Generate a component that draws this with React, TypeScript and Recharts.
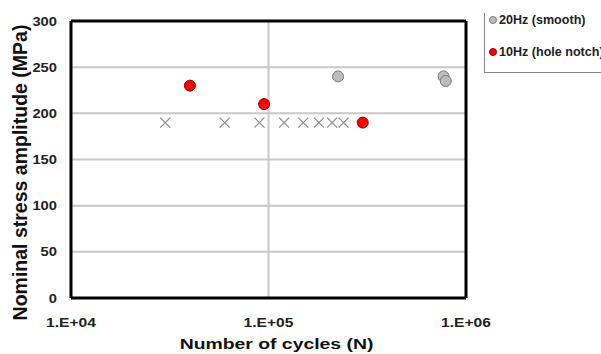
import React from 'react';
import { ScatterChart, Scatter, XAxis, YAxis, CartesianGrid, ReferenceLine, Label } from 'recharts';

const smoothCycles = [225000, 770000, 790000];
const smoothStress = [240, 240, 235];
const notchCycles = [40000, 95000, 300000];
const notchStress = [230, 210, 190];
const runoutCycles = [30000, 60000, 90000, 120000, 150000, 180000, 210000, 240000];
const runoutStress = [190, 190, 190, 190, 190, 190, 190, 190];
const xTicks = [10000, 100000, 1000000];
const yTicks = [0, 50, 100, 150, 200, 250, 300];
const legendLabels = ['20Hz (smooth)', '10Hz (hole notch)'];
const xTitle = 'Number of cycles (N)';
const yTitle = 'Nominal stress amplitude (MPa)';

const toPts = (xs: number[], ys: number[]) => xs.map((x, i) => ({ x, y: ys[i] }));
const smoothData = toPts(smoothCycles, smoothStress);
const notchData = toPts(notchCycles, notchStress);
const runoutData = toPts(runoutCycles, runoutStress);

const fmt = (v: number) => {
  const e = Math.round(Math.log10(v));
  return `1.E+${e < 10 ? '0' + e : e}`;
};

const FONT = 'Liberation Sans, Arial, sans-serif';

const GreyDot = (p: any) => <circle cx={p.cx} cy={p.cy} r={5.5} fill="#bdbdbd" stroke="#7a7a7a" strokeWidth={1} />;
const RedDot = (p: any) => <circle cx={p.cx} cy={p.cy} r={5.5} fill="#ff0000" stroke="#8a0000" strokeWidth={1} />;
const Cross = (p: any) => {
  const s = 5;
  return (
    <path
      d={`M${p.cx - s},${p.cy - s}L${p.cx + s},${p.cy + s}M${p.cx - s},${p.cy + s}L${p.cx + s},${p.cy - s}`}
      stroke="#8c8c8c"
      strokeWidth={1.2}
      fill="none"
    />
  );
};

const XTick = (p: any) => (
  <g transform={`translate(${p.x},${p.y})`}>
    <text transform="scale(1.25,1)" textAnchor="middle" dy="0.71em" fontSize={12.5} fontWeight={700} fill="#222" fontFamily={FONT}>
      {fmt(p.payload.value)}
    </text>
  </g>
);

const YTick = (p: any) => (
  <g transform={`translate(${p.x},${p.y})`}>
    <text transform="scale(1.18,1)" textAnchor="end" dy="0.36em" fontSize={12.5} fontWeight={700} fill="#222" fontFamily={FONT}>
      {p.payload.value}
    </text>
  </g>
);

const XTitle = (p: any) => {
  const vb = p.viewBox;
  const cx = vb.x + vb.width / 2 + 8;
  return (
    <g transform={`translate(${cx},349)`}>
      <text transform="scale(1.25,1)" textAnchor="middle" fontSize={15.5} fontWeight={700} fill="#111" fontFamily={FONT}>
        {xTitle}
      </text>
    </g>
  );
};

const YTitle = (p: any) => {
  const vb = p.viewBox;
  const cy = vb.y + vb.height / 2 + 13;
  return (
    <text transform={`translate(27,${cy}) rotate(-90)`} textAnchor="middle" fontSize={19.5} fontWeight={700} fill="#111" fontFamily={FONT}>
      {yTitle}
    </text>
  );
};

export default function App() {
  const legendText: React.CSSProperties = { display: 'inline-block', transform: 'scaleX(0.93)', transformOrigin: 'left center', fontSize: 13.5 };
  return (
    <div style={{ position: 'absolute', left: 0, top: 0, width: 601, height: 354, background: '#fff', overflow: 'hidden', fontFamily: FONT }}>
      <ScatterChart width={601} height={354} margin={{ top: 21, right: 135, bottom: 0, left: 0 }}>
        <CartesianGrid vertical={false} stroke="#c8c8c8" strokeWidth={2} />
        <XAxis
          dataKey="x"
          type="number"
          scale="log"
          domain={[10000, 1000000]}
          ticks={xTicks}
          tick={<XTick />}
          tickLine={false}
          tickSize={0}
          tickMargin={20}
          axisLine={{ stroke: '#000', strokeWidth: 3 }}
          height={56}
          allowDataOverflow
        >
          <Label content={<XTitle />} />
        </XAxis>
        <YAxis
          dataKey="y"
          type="number"
          domain={[0, 300]}
          ticks={yTicks}
          tick={<YTick />}
          tickLine={false}
          tickSize={0}
          tickMargin={14}
          axisLine={{ stroke: '#000', strokeWidth: 3 }}
          width={71}
        >
          <Label content={<YTitle />} />
        </YAxis>
        <ReferenceLine x={100000} stroke="#c8c8c8" strokeWidth={2} />
        <ReferenceLine y={300} stroke="#000" strokeWidth={3} />
        <ReferenceLine x={1000000} stroke="#000" strokeWidth={3} />
        <Scatter data={runoutData} shape={Cross} isAnimationActive={false} />
        <Scatter data={smoothData} shape={GreyDot} isAnimationActive={false} />
        <Scatter data={notchData} shape={RedDot} isAnimationActive={false} />
      </ScatterChart>
      <div style={{ position: 'absolute', left: 484, top: 13, width: 200, height: 59, borderLeft: '1px solid #888', borderBottom: '1px solid #888' }} />
      <div style={{ position: 'absolute', left: 489, top: 12, fontWeight: 700, color: '#222', whiteSpace: 'nowrap', lineHeight: '16px' }}>
        <div style={{ display: 'flex', alignItems: 'center' }}>
          <span style={{ display: 'inline-block', width: 6, height: 6, borderRadius: '50%', background: '#bdbdbd', border: '1px solid #7a7a7a', marginRight: 2 }} />
          <span style={legendText}>{legendLabels[0]}</span>
        </div>
        <div style={{ display: 'flex', alignItems: 'center', marginTop: 16 }}>
          <span style={{ display: 'inline-block', width: 6, height: 6, borderRadius: '50%', background: '#ff0000', border: '1px solid #8a0000', marginRight: 2 }} />
          <span style={legendText}>{legendLabels[1]}</span>
        </div>
      </div>
    </div>
  );
}
